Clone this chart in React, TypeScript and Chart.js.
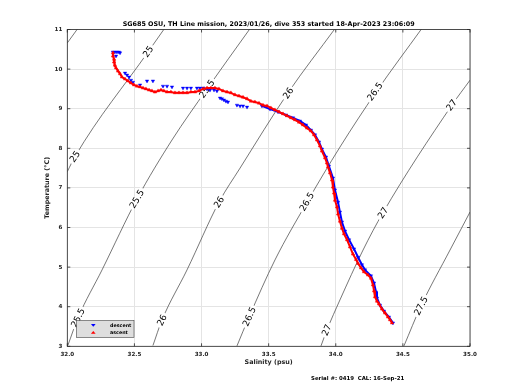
import React, { useEffect, useRef } from "react";
import { Chart, registerables } from "chart.js";

Chart.register(...registerables);

// ---------- data ----------
const xTicks = [32, 32.5, 33, 33.5, 34, 34.5, 35];
const yTicks = [3, 4, 5, 6, 7, 8, 9, 10, 11];

const titleText =
  "SG685 OSU, TH Line mission, 2023/01/26, dive 353 started 18-Apr-2023 23:06:09";
const xTitle = "Salinity (psu)";
const yTitle = "Temperature (°C)";
const serialText = "Serial #: 0419  CAL: 16-Sep-21";
const legendLabels = ["descent", "ascent"];

const descentS = [
  32.340, 32.355, 32.370, 32.385, 32.393, 32.363, 32.430, 32.445, 32.460, 32.474,
  32.489, 32.542, 32.594, 32.638, 32.713, 32.743, 32.780, 32.862, 32.892, 32.921,
  32.966, 32.988, 33.011, 33.041, 33.063, 33.093, 33.115, 33.138, 33.152, 33.167,
  33.182, 33.197, 33.264, 33.287, 33.309, 33.339, 33.450, 33.510, 33.570, 33.629,
  33.681, 33.733, 33.778, 33.815, 33.845, 33.875, 33.897, 33.927, 33.949, 33.979,
  33.994, 34.017, 34.031, 34.046, 34.069, 34.099, 34.136, 34.166, 34.195, 34.218,
  34.262, 34.285, 34.300, 34.307, 34.329, 34.359, 34.396, 34.426,
];
const descentT = [
  10.43, 10.43, 10.43, 10.43, 10.41, 10.33, 9.90, 9.85, 9.80, 9.72,
  9.67, 9.60, 9.70, 9.70, 9.57, 9.57, 9.55, 9.52, 9.52, 9.52,
  9.52, 9.52, 9.52, 9.50, 9.47, 9.47, 9.45, 9.27, 9.25, 9.22,
  9.19, 9.17, 9.09, 9.07, 9.07, 9.04, 9.07, 8.99, 8.92, 8.84,
  8.77, 8.69, 8.59, 8.46, 8.34, 8.16, 7.98, 7.78, 7.55, 7.25,
  6.95, 6.64, 6.39, 6.14, 5.91, 5.69, 5.46, 5.25, 5.06, 4.93,
  4.78, 4.60, 4.37, 4.22, 4.04, 3.89, 3.74, 3.59,
];
const descentContinuousFrom = 36;

const ascentS = [
  32.340, 32.340, 32.348, 32.348, 32.355, 32.363, 32.378, 32.393, 32.407, 32.430,
  32.452, 32.474, 32.497, 32.519, 32.542, 32.564, 32.586, 32.609, 32.631, 32.653,
  32.676, 32.698, 32.720, 32.743, 32.772, 32.802, 32.832, 32.862, 32.892, 32.921,
  32.951, 32.981, 33.011, 33.041, 33.070, 33.100, 33.130, 33.160, 33.190, 33.219,
  33.249, 33.279, 33.309, 33.339, 33.368, 33.398, 33.428, 33.458, 33.488, 33.517,
  33.547, 33.577, 33.607, 33.637, 33.666, 33.696, 33.726, 33.756, 33.786, 33.815,
  33.838, 33.860, 33.882, 33.897, 33.920, 33.934, 33.942, 33.957, 33.972, 33.979,
  33.987, 33.994, 34.009, 34.017, 34.031, 34.046, 34.061, 34.084, 34.106, 34.128,
  34.151, 34.166, 34.188, 34.210, 34.240, 34.262, 34.277, 34.285, 34.292, 34.307,
  34.322, 34.344, 34.367, 34.389, 34.404, 34.419,
];
const ascentT = [
  10.41, 10.33, 10.25, 10.18, 10.10, 10.03, 9.95, 9.88, 9.80, 9.75,
  9.70, 9.65, 9.60, 9.57, 9.55, 9.52, 9.50, 9.47, 9.45, 9.42,
  9.45, 9.47, 9.45, 9.42, 9.42, 9.40, 9.40, 9.40, 9.40, 9.42,
  9.42, 9.45, 9.50, 9.52, 9.52, 9.52, 9.50, 9.45, 9.42, 9.40,
  9.35, 9.32, 9.29, 9.25, 9.19, 9.17, 9.14, 9.09, 9.07, 9.02,
  8.97, 8.92, 8.87, 8.82, 8.77, 8.72, 8.66, 8.59, 8.51, 8.44,
  8.34, 8.21, 8.06, 7.93, 7.76, 7.63, 7.53, 7.38, 7.20, 7.02,
  6.87, 6.69, 6.52, 6.34, 6.16, 5.98, 5.84, 5.69, 5.51, 5.33,
  5.19, 5.09, 4.98, 4.88, 4.80, 4.72, 4.55, 4.40, 4.25, 4.14,
  4.07, 3.94, 3.84, 3.74, 3.67, 3.59,
];

// sigma-theta contours
const contourLevels = [24.5, 25, 25.5, 26, 26.5, 27, 27.5];
const sigma245S = [32.0, 32.077];
const sigma245T = [10.66, 11.02];
const sigma25S = [32.0, 32.057, 32.603, 32.723];
const sigma25T = [7.41, 7.79, 10.44, 11.02];
const sigma255S = [32.005, 32.080, 32.259, 32.519, 32.780, 33.041, 33.361];
const sigma255T = [3.03, 3.72, 4.93, 6.72, 8.21, 9.50, 11.02];
const sigma26S = [32.638, 32.705, 32.892, 33.130, 33.287, 33.644, 33.994];
const sigma26T = [3.02, 3.66, 4.93, 6.64, 7.50, 9.40, 11.02];
const sigma265S = [33.264, 33.354, 33.547, 33.786, 34.031, 34.300, 34.640];
const sigma265T = [3.01, 3.74, 5.18, 6.64, 8.03, 9.42, 11.02];
const sigma27S = [33.890, 33.934, 34.031, 34.203, 34.351, 34.865, 35.0];
const sigma27T = [3.01, 3.41, 4.17, 5.43, 6.37, 9.09, 9.72];
const sigma275S = [34.508, 34.635, 34.851, 35.0];
const sigma275T = [3.01, 4.02, 5.43, 6.39];
const contourS = [sigma245S, sigma25S, sigma255S, sigma26S, sigma265S, sigma27S, sigma275S];
const contourT = [sigma245T, sigma25T, sigma255T, sigma26T, sigma265T, sigma27T, sigma275T];

const labelLevel = [25, 25, 25.5, 25.5, 25.5, 26, 26, 26, 26.5, 26.5, 26.5, 27, 27, 27, 27.5];
const labelS = [32.603, 32.057, 33.041, 32.519, 32.080, 33.646, 33.130, 32.705, 34.292, 33.785, 33.356, 34.863, 34.352, 33.932, 34.635];
const labelT = [10.44, 7.79, 9.50, 6.72, 3.72, 9.39, 6.64, 3.66, 9.43, 6.65, 3.75, 9.09, 6.37, 3.41, 4.02];

// ---------- styling ----------
const FONT = "'DejaVu Sans', sans-serif";
const BLUE = "rgb(0,0,255)";
const RED = "rgb(255,0,0)";
const AXIS = "#262626";

const pts = (s: number[], t: number[]) => s.map((v, i) => ({ x: v, y: t[i] }));

function tri(ctx: CanvasRenderingContext2D, x: number, y: number, r: number, down: boolean, color: string) {
  ctx.save();
  ctx.fillStyle = color;
  ctx.beginPath();
  const h = r * 1.5;
  const w = r * 1.3;
  if (down) {
    ctx.moveTo(x - w, y - h / 2);
    ctx.lineTo(x + w, y - h / 2);
    ctx.lineTo(x, y + h / 2);
  } else {
    ctx.moveTo(x - w, y + h / 2);
    ctx.lineTo(x + w, y + h / 2);
    ctx.lineTo(x, y - h / 2);
  }
  ctx.closePath();
  ctx.fill();
  ctx.restore();
}

function drawContourLabels(chart: any) {
  const ctx: CanvasRenderingContext2D = chart.ctx;
  const xs = chart.scales.x;
  const ys = chart.scales.y;
  const ca = chart.chartArea;
  ctx.save();
  ctx.beginPath();
  ctx.rect(ca.left, ca.top, ca.right - ca.left, ca.bottom - ca.top);
  ctx.clip();
  ctx.font = `9px ${FONT}`;
  ctx.textAlign = "center";
  ctx.textBaseline = "middle";
  labelLevel.forEach((lev, k) => {
    const ci = contourLevels.indexOf(lev);
    const S = contourS[ci];
    const T = contourT[ci];
    let seg = 0;
    for (let i = 0; i < T.length - 1; i++) {
      if (labelT[k] >= T[i] && labelT[k] <= T[i + 1]) seg = i;
    }
    const x1 = xs.getPixelForValue(S[seg]);
    const y1 = ys.getPixelForValue(T[seg]);
    const x2 = xs.getPixelForValue(S[seg + 1]);
    const y2 = ys.getPixelForValue(T[seg + 1]);
    const ang = Math.atan2(y2 - y1, x2 - x1);
    const px = xs.getPixelForValue(labelS[k]);
    const py = ys.getPixelForValue(labelT[k]);
    const txt = String(lev);
    const w = ctx.measureText(txt).width;
    ctx.save();
    ctx.translate(px, py);
    ctx.rotate(ang);
    ctx.fillStyle = "#ffffff";
    ctx.fillRect(-w / 2 - 2, -3, w + 4, 6);
    ctx.fillStyle = "#000000";
    ctx.fillText(txt, 0, 0.5);
    ctx.restore();
  });
  ctx.restore();
}

const extras = {
  id: "extras",
  beforeDatasetDraw(chart: any, args: any) {
    if (args.index === 1) drawContourLabels(chart);
  },
  afterDraw(chart: any) {
    const ctx: CanvasRenderingContext2D = chart.ctx;
    const ca = chart.chartArea;
    const xs = chart.scales.x;
    const ys = chart.scales.y;
    ctx.save();
    // frame
    ctx.strokeStyle = AXIS;
    ctx.lineWidth = 0.8;
    ctx.strokeRect(ca.left, ca.top, ca.right - ca.left, ca.bottom - ca.top);
    ctx.beginPath();
    xTicks.forEach((v) => {
      const x = xs.getPixelForValue(v);
      ctx.moveTo(x, ca.bottom);
      ctx.lineTo(x, ca.bottom - 3);
      ctx.moveTo(x, ca.top);
      ctx.lineTo(x, ca.top + 3);
    });
    yTicks.forEach((v) => {
      const y = ys.getPixelForValue(v);
      ctx.moveTo(ca.left, y);
      ctx.lineTo(ca.left + 3, y);
      ctx.moveTo(ca.right, y);
      ctx.lineTo(ca.right - 3, y);
    });
    ctx.stroke();

    // title
    ctx.fillStyle = "#000";
    ctx.textAlign = "center";
    ctx.textBaseline = "middle";
    ctx.font = `bold 6.4px ${FONT}`;
    ctx.fillText(titleText, (ca.left + ca.right) / 2, 24);
    // axis titles
    ctx.fillStyle = AXIS;
    ctx.fillText(xTitle, (ca.left + ca.right) / 2, 362);
    ctx.save();
    ctx.translate(47, (ca.top + ca.bottom) / 2);
    ctx.rotate(-Math.PI / 2);
    ctx.fillText(yTitle, 0, 0);
    ctx.restore();
    // serial
    ctx.fillStyle = "#000";
    ctx.textAlign = "left";
    ctx.font = `bold 5.4px ${FONT}`;
    ctx.fillText(serialText, 311, 378.5);

    // legend
    const lx = 76.5, ly = 320.5, lw = 57.5, lh = 17;
    ctx.fillStyle = "#dedede";
    ctx.fillRect(lx, ly, lw, lh);
    ctx.strokeStyle = "#444";
    ctx.lineWidth = 0.6;
    ctx.strokeRect(lx, ly, lw, lh);
    tri(ctx, 93.3, 325.3, 1.8, true, BLUE);
    tri(ctx, 93.3, 332.3, 1.8, false, RED);
    ctx.fillStyle = "#000";
    ctx.font = `bold 4.8px ${FONT}`;
    ctx.textAlign = "left";
    ctx.fillText(legendLabels[0], 110, 325.3);
    ctx.fillText(legendLabels[1], 110, 332.3);
    ctx.restore();
  },
};

function buildConfig(): any {
  const contourSets = contourLevels.map((lev, i) => ({
    label: `sigma ${lev}`,
    data: pts(contourS[i], contourT[i]),
    showLine: true,
    pointRadius: 0,
    borderColor: "#3c3c3c",
    borderWidth: 0.7,
    cubicInterpolationMode: "monotone",
  }));
  return {
    type: "scatter",
    data: {
      datasets: [
        {
          label: legendLabels[1],
          data: pts(ascentS, ascentT),
          showLine: true,
          borderColor: RED,
          borderWidth: 2,
          pointStyle: "triangle",
          pointRadius: 2,
          pointBorderWidth: 0.4,
          pointBackgroundColor: RED,
          pointBorderColor: RED,
        },
        {
          label: legendLabels[0],
          data: pts(descentS, descentT),
          showLine: true,
          borderWidth: 2,
          borderColor: BLUE,
          segment: {
            borderColor: (c: any) => (c.p0DataIndex >= descentContinuousFrom ? BLUE : "rgba(0,0,0,0)"),
          },
          pointStyle: "triangle",
          rotation: 180,
          pointRotation: 180,
          pointRadius: 2,
          pointBorderWidth: 0.4,
          pointBackgroundColor: BLUE,
          pointBorderColor: BLUE,
        },
        ...contourSets,
      ],
    },
    options: {
      responsive: false,
      animation: false,
      events: [],
      layout: { padding: { left: 0, right: 50, top: 29.5, bottom: 0 } },
      plugins: {
        legend: { display: false },
        tooltip: { enabled: false },
        title: { display: false },
      },
      scales: {
        x: {
          type: "linear",
          min: 32,
          max: 35,
          afterBuildTicks: (s: any) => {
            s.ticks = xTicks.map((v) => ({ value: v }));
          },
          afterFit: (s: any) => {
            s.height = 43.7;
          },
          grid: { color: "#e4e4e4", lineWidth: 1, drawTicks: false, tickLength: 0 },
          border: { display: false },
          ticks: {
            font: { family: FONT, size: 5.6, weight: "bold" },
            color: AXIS,
            padding: 5,
            maxRotation: 0,
            autoSkip: false,
          },
        },
        y: {
          type: "linear",
          min: 3,
          max: 11,
          afterBuildTicks: (s: any) => {
            s.ticks = yTicks.map((v) => ({ value: v }));
          },
          afterFit: (s: any) => {
            s.width = 67.3;
          },
          grid: { color: "#e4e4e4", lineWidth: 1, drawTicks: false, tickLength: 0 },
          border: { display: false },
          ticks: {
            font: { family: FONT, size: 5.6, weight: "bold" },
            color: AXIS,
            padding: 5,
            autoSkip: false,
          },
        },
      },
    },
    plugins: [extras],
  };
}

export default function App() {
  const ref = useRef<HTMLCanvasElement>(null);
  useEffect(() => {
    if (!ref.current) return;
    const chart = new Chart(ref.current, buildConfig());
    return () => chart.destroy();
  }, []);
  return (
    <div style={{ position: "absolute", left: 0, top: 0, width: 520, height: 390, background: "#fff" }}>
      <canvas ref={ref} width={520} height={390} style={{ display: "block" }} />
    </div>
  );
}
